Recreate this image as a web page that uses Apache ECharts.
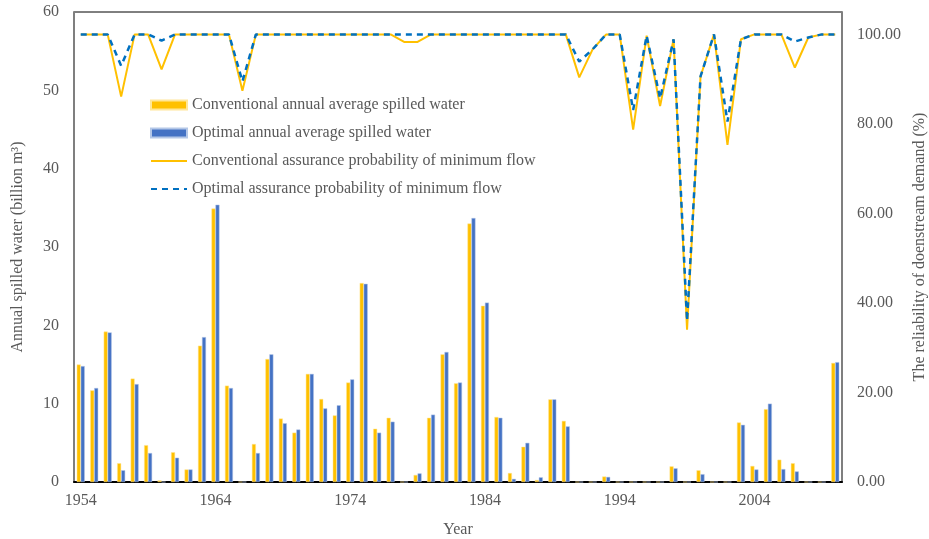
<!DOCTYPE html>
<html>
<head>
<meta charset="utf-8">
<script src="https://cdn.jsdelivr.net/npm/echarts@6/dist/echarts.min.js"></script>
<style>html,body{margin:0;padding:0;background:#fff;}#c{width:929px;height:539px;}</style>
</head>
<body>
<div id="c"></div>
<script>
var years = [];
for (var y = 1954; y <= 2010; y++) years.push(String(y));

var convSpill = [15.0, 11.7, 19.2, 2.4, 13.2, 4.7, 0.2, 3.8, 1.6, 17.4,
  34.9, 12.3, 0, 4.85, 15.7, 8.1, 6.3, 13.8, 10.6, 8.5,
  12.7, 25.4, 6.8, 8.2, 0, 0.9, 8.2, 16.3, 12.6, 33.0,
  22.5, 8.3, 1.15, 4.5, 0.25, 10.55, 7.8, 0, 0, 0.7,
  0, 0, 0, 0, 2.0, 0, 1.5, 0, 0, 7.6,
  2.05, 9.3, 2.85, 2.4, 0, 0, 15.2];
var optSpill = [14.8, 12.0, 19.1, 1.5, 12.5, 3.7, 0, 3.1, 1.6, 18.5,
  35.4, 12.0, 0, 3.7, 16.3, 7.5, 6.7, 13.8, 9.4, 9.8,
  13.1, 25.3, 6.3, 7.7, 0, 1.1, 8.6, 16.6, 12.7, 33.7,
  22.9, 8.2, 0.4, 5.0, 0.6, 10.55, 7.1, 0, 0, 0.65,
  0, 0, 0, 0, 1.75, 0, 1.0, 0, 0, 7.3,
  1.6, 10.0, 1.65, 1.35, 0, 0, 15.3];
var convProb = [100, 100, 100, 86.1, 100, 100, 92.2, 100, 100, 100,
  100, 100, 87.4, 100, 100, 100, 100, 100, 100, 100,
  100, 100, 100, 100, 98.3, 98.3, 100, 100, 100, 100,
  100, 100, 100, 100, 100, 100, 100, 90.4, 96.7, 100,
  100, 78.7, 99.7, 84.0, 98.9, 34.0, 90.6, 100, 75.3, 98.9,
  100, 100, 100, 92.6, 99.3, 100, 100];
var optProb = [100, 100, 100, 93.0, 100, 100, 98.6, 100, 100, 100,
  100, 100, 89.5, 100, 100, 100, 100, 100, 100, 100,
  100, 100, 100, 100, 100, 100, 100, 100, 100, 100,
  100, 100, 100, 100, 100, 100, 100, 93.9, 96.7, 100,
  100, 83.1, 99.7, 85.7, 98.9, 36.0, 90.6, 100, 80.5, 98.9,
  100, 100, 100, 98.4, 99.3, 100, 100];

var names = ['Conventional annual average spilled water', 'Optimal annual average spilled water',
  'Conventional assurance probability of minimum flow', 'Optimal assurance probability of minimum flow'];

var FONT = '"Liberation Serif", "Times New Roman", serif';
var GREY = '#595959';

var chart = echarts.init(document.getElementById('c'), null, {renderer: 'canvas'});
chart.setOption({
  animation: false,
  backgroundColor: '#fff',
  textStyle: {fontFamily: FONT},
  grid: {left: 74, right: 87, top: 12, bottom: 57, show: true, borderColor: '#000', borderWidth: 1,
    containLabel: false, outerBoundsMode: 'none'},
  legend: {
    orient: 'vertical', left: 145, top: 91, itemWidth: 36, itemHeight: 9, itemGap: 10,
    textStyle: {fontFamily: FONT, fontSize: 16, color: GREY, lineHeight: 18},
    data: [
      {name: names[0], icon: 'rect'},
      {name: names[1], icon: 'rect'},
      {name: names[2], itemStyle: {opacity: 0}},
      {name: names[3], itemStyle: {opacity: 0}}
    ]
  },
  xAxis: {
    type: 'category', data: years, boundaryGap: true,
    name: 'Year', nameLocation: 'middle', nameGap: 40,
    nameTextStyle: {fontFamily: FONT, fontSize: 16, color: GREY},
    axisLine: {show: true, lineStyle: {color: '#000', width: 2}},
    axisTick: {show: false},
    axisLabel: {interval: function (i) { return i % 10 === 0; }, fontFamily: FONT, fontSize: 16, color: GREY, margin: 11},
    splitLine: {show: false}
  },
  yAxis: [{
    type: 'value', min: 0, max: 60, interval: 10,
    name: 'Annual spilled water (billion m³)', nameLocation: 'middle', nameGap: 48,
    nameTextStyle: {fontFamily: FONT, fontSize: 16, color: GREY},
    axisLine: {show: true, lineStyle: {color: '#7f7f7f', width: 2}},
    axisTick: {show: false},
    axisLabel: {fontFamily: FONT, fontSize: 16, color: GREY, margin: 15},
    splitLine: {show: false}
  }, {
    type: 'value', min: 0, max: 105, interval: 20, position: 'right',
    name: 'The reliability of doenstream demand (%)', nameLocation: 'middle', nameGap: 63, nameRotate: 90,
    nameTextStyle: {fontFamily: FONT, fontSize: 16, color: GREY},
    axisLine: {show: true, lineStyle: {color: '#7f7f7f', width: 2}},
    axisTick: {show: false},
    axisLabel: {fontFamily: FONT, fontSize: 16, color: GREY, margin: 15, showMaxLabel: false,
      formatter: function (v) { return v.toFixed(2); }},
    splitLine: {show: false}
  }],
  series: [
    {name: names[0], type: 'bar', data: convSpill, barWidth: 4, barGap: '0%',
      itemStyle: {color: '#FFC000', borderColor: '#FFE699', borderWidth: 0.5}},
    {name: names[1], type: 'bar', data: optSpill, barWidth: 4, barGap: '0%',
      itemStyle: {color: '#4472C4', borderColor: '#B4C7E7', borderWidth: 0.5}},
    {name: names[2], type: 'line', yAxisIndex: 1, data: convProb, symbol: 'none', showSymbol: false,
      lineStyle: {color: '#FFC000', width: 2}, itemStyle: {color: '#FFC000'}, z: 3},
    {name: names[3], type: 'line', yAxisIndex: 1, data: optProb, symbol: 'none', showSymbol: false,
      lineStyle: {color: '#0070C0', width: 2.5, type: [6, 5]}, itemStyle: {color: '#0070C0'}, z: 4}
  ]
});
</script>
</body>
</html>
